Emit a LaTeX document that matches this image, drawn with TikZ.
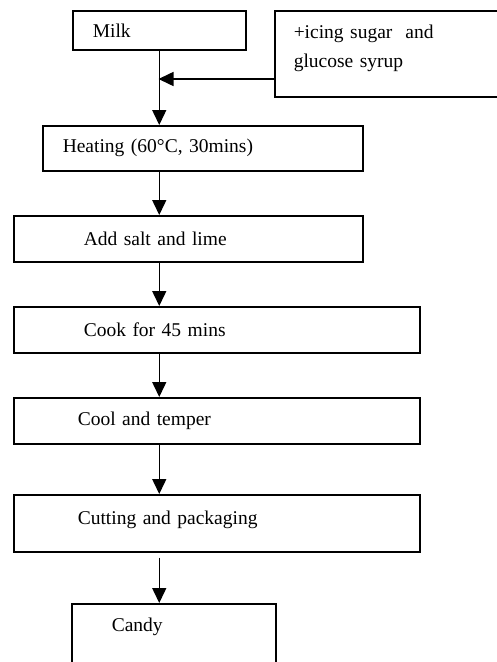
\documentclass[tikz,border=0pt]{standalone}
\usepackage{fontspec}
\setmainfont{Liberation Serif}
\usepackage{tikz}
\usetikzlibrary{positioning,arrows.meta}
\tikzstyle{stage} = [rectangle, draw, anchor=north west, align=left, inner ysep=0pt, line width=1.5pt]
\tikzstyle{flow} = [-{Triangle[width=14pt,length=15pt]}, line width=1.5pt]

\begin{document}
\begin{tikzpicture}[x=1pt, y=-1pt, font=\fontsize{19.5}{29}\selectfont]
\useasboundingbox (0,0) rectangle (496,662);
\node(M)[stage, inner xsep=20pt, text width=133pt, minimum height=39pt] at (72,10) {Milk};
\node(S)[stage, inner xsep=19pt, text width=188pt, minimum height=86pt, text depth=44pt] at (274,10) {+icing sugar~ and\\glucose syrup};
\node(H)[stage, inner xsep=20pt, text width=280pt, minimum height=45pt] at (42,125) {Heating (60°C, 30mins)};
\node(A)[stage, inner xsep=70pt, text width=209pt, minimum height=46pt] at (13,215) {Add salt and lime};
\node(K)[stage, inner xsep=70pt, text width=266pt, minimum height=46pt] at (13,306) {Cook for 45 mins};
\node(C)[stage, inner xsep=64pt, text width=278pt, minimum height=46pt] at (13,397) {Cool and temper};
\node(T)[stage, inner xsep=64pt, text width=278pt, minimum height=57pt, text depth=12pt] at (13,494) {Cutting and packaging};
\node(D)[stage, inner xsep=40pt, text width=124pt, minimum height=70pt, text depth=28pt] at (71,603) {Candy};
\coordinate (J) at (158.5,79);
\draw[flow] (M.south) -- (M.south |- H.north);
\draw[flow] (J -| S.west) -- (J);
\draw[flow] (H.south -| M.south) -- (A.north -| M.south);
\draw[flow] (A.south -| M.south) -- (K.north -| M.south);
\draw[flow] (K.south -| M.south) -- (C.north -| M.south);
\draw[flow] (C.south -| M.south) -- (T.north -| M.south);
\draw[flow, shorten <=5pt] (T.south -| M.south) -- (D.north -| M.south);
\end{tikzpicture}
\end{document}
